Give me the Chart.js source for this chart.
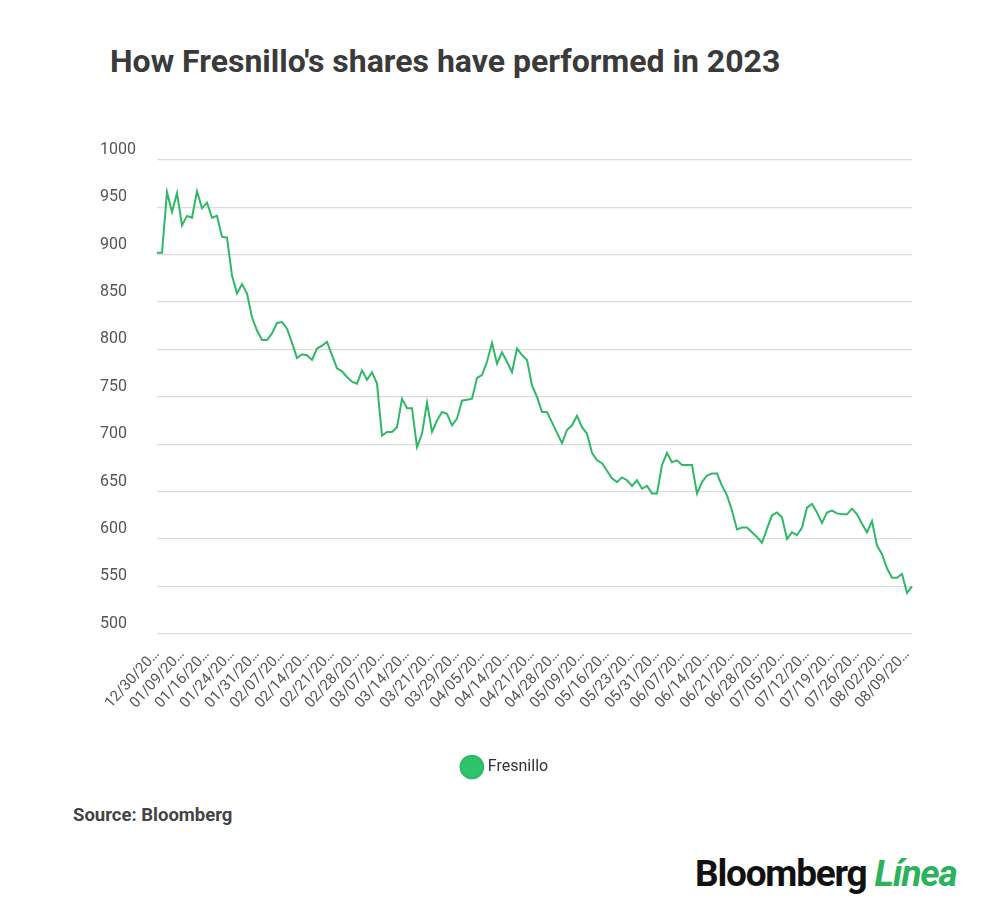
<!DOCTYPE html>
<html>
<head>
<meta charset="utf-8">
<script src="https://cdn.jsdelivr.net/npm/chart.js@4"></script>
<style>
  body { margin: 0; background: #fff; font-family: Roboto, "Liberation Sans", sans-serif; }
  #wrap { position: relative; width: 1000px; height: 920px; }
  h1 { position: absolute; left: 110px; top: 42px; margin: 0; font-size: 32px; font-weight: 700; color: #3a3a3a; }
  #box { position: absolute; left: 0; top: 130px; width: 1000px; height: 655px; }
  #source { position: absolute; left: 73px; top: 804px; font-size: 18.5px; font-weight: 700; color: #444; }
  #logo { position: absolute; left: 695px; top: 852px; font-size: 37px; font-weight: 700; color: #111; letter-spacing: -1.2px; }
  #logo span { color: #2bb35c; font-style: italic; }
</style>
</head>
<body>
<div id="wrap">
  <h1>How Fresnillo's shares have performed in 2023</h1>
  <div id="box"><canvas id="chart"></canvas></div>
  <div id="source">Source: Bloomberg</div>
  <div id="logo">Bloomberg <span>Línea</span></div>
</div>
<script>
// fechas (sesiones), cada 5 se muestra una etiqueta
const dates = [
  '12/30','01/03','01/04','01/05','01/06','01/09','01/10','01/11','01/12','01/13',
  '01/16','01/17','01/18','01/19','01/20','01/24','01/25','01/26','01/27','01/30',
  '01/31','02/01','02/02','02/03','02/06','02/07','02/08','02/09','02/10','02/13',
  '02/14','02/15','02/16','02/17','02/20','02/21','02/22','02/23','02/24','02/27',
  '02/28','03/01','03/02','03/03','03/06','03/07','03/08','03/09','03/10','03/13',
  '03/14','03/15','03/16','03/17','03/20','03/21','03/22','03/23','03/24','03/27',
  '03/29','03/30','03/31','04/03','04/04','04/05','04/06','04/11','04/12','04/13',
  '04/14','04/17','04/18','04/19','04/20','04/21','04/24','04/25','04/26','04/27',
  '04/28','05/02','05/03','05/04','05/05','05/09','05/10','05/11','05/12','05/15',
  '05/16','05/17','05/18','05/19','05/22','05/23','05/24','05/25','05/26','05/30',
  '05/31','06/01','06/02','06/05','06/06','06/07','06/08','06/09','06/12','06/13',
  '06/14','06/15','06/16','06/19','06/20','06/21','06/22','06/23','06/26','06/27',
  '06/28','06/29','06/30','07/03','07/04','07/05','07/06','07/07','07/10','07/11',
  '07/12','07/13','07/14','07/17','07/18','07/19','07/20','07/21','07/24','07/25',
  '07/26','07/27','07/28','07/31','08/01','08/02','08/03','08/04','08/07','08/08',
  '08/09','08/10'
];

const fresnillo = [
  902,902,966,945,965,931,941,939,967,949,955,939,941,919,918,878,859,869,859,834,
  820,810,810,817,828,829,822,807,791,795,794,789,801,804,808,794,780,777,771,766,
  764,778,768,776,764,709,713,713,718,748,738,738,697,711,744,713,725,734,732,720,
  727,746,747,748,770,773,787,807,785,797,787,776,801,794,789,
  762,750,734,734,723,712,701,715,720,730,718,711,691,683,680,672,664,660,665,662,
  656,662,653,656,648,648,678,691,681,683,678,678,678,648,660,667,669,669,656,646,
  630,610,612,612,607,602,596,611,625,628,623,600,607,604,612,633,637,628,617,628,
  630,627,626,626,632,626,616,607,619,593,584,569,559,559,563,543,550
];

const yTicks = [500, 550, 600, 650, 700, 750, 800, 850, 900, 950, 1000];

new Chart(document.getElementById('chart'), {
  type: 'line',
  data: {
    labels: dates,
    datasets: [{
      label: 'Fresnillo',
      data: fresnillo,
      borderColor: '#2fb868',
      backgroundColor: '#2fc46a',
      borderWidth: 2,
      pointRadius: 0,
      tension: 0
    }]
  },
  options: {
    responsive: true,
    maintainAspectRatio: false,
    animation: false,
    layout: { padding: { left: 100, right: 88, top: 30 } },
    plugins: {
      tooltip: { enabled: false },
      legend: {
        position: 'bottom',
        labels: {
          usePointStyle: true, pointStyle: 'circle', boxWidth: 22, boxHeight: 22,
          padding: 43, color: '#333', font: { size: 16, family: 'Roboto' }
        }
      }
    },
    scales: {
      x: {
        grid: { display: false },
        border: { display: false },
        ticks: {
          autoSkip: false, maxRotation: 48, minRotation: 48,
          color: '#555', font: { size: 15, family: 'Roboto' }, padding: 4,
          callback: (v, i) => i % 5 === 0 ? dates[i] + '/20…' : null
        }
      },
      y: {
        min: 500, max: 1000,
        afterFit: s => { s.width = 57; },
        afterBuildTicks: s => { s.ticks = yTicks.map(v => ({ value: v })); },
        grid: { color: '#dcdcdc', lineWidth: 1.3, drawTicks: false },
        border: { display: false },
        ticks: {
          crossAlign: 'far', labelOffset: -10, padding: 0,
          color: '#555', font: { size: 16, family: 'Roboto' },
          callback: v => String(v)
        }
      }
    }
  }
});
</script>
</body>
</html>
